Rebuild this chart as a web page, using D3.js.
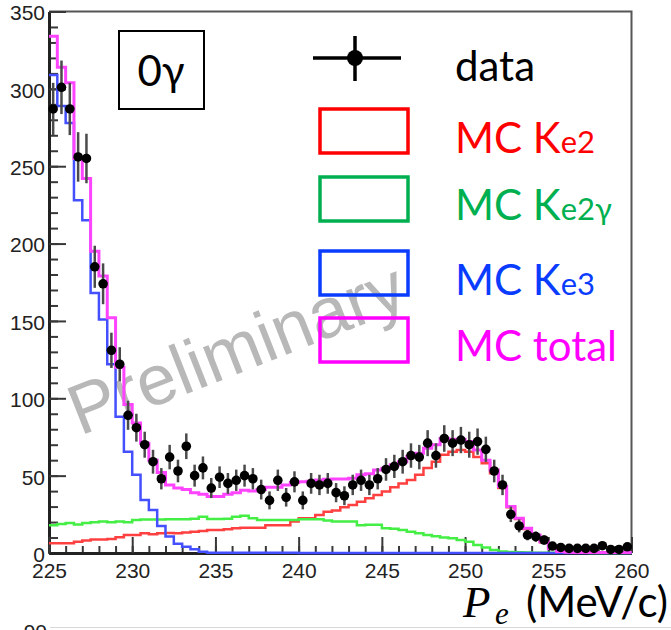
<!DOCTYPE html>
<html><head><meta charset="utf-8">
<script src="https://cdn.jsdelivr.net/npm/d3@7"></script>
<style>body{margin:0;background:#fff} svg{display:block}</style>
</head><body><svg id="c" width="671" height="630"></svg>
<script>
// ---- data ----
const binStart = 225, binWidth = 0.5;
const xTicks = [225, 230, 235, 240, 245, 250, 255, 260];
const yTicks = [0, 50, 100, 150, 200, 250, 300, 350];

const dataVals = [287,301,287,256,255,185,174,131,122,89,
  81,70,59,48,62,53,69,50,55,42,
  49,45,47,50,48,41,34,47,36,46,
  34,45,44,45,39,37,44,47,44,48,
  54,56,59,63,62,71,63,74,71,73,
  70,72,67,53,44,25,17.5,11.6,10.6,8.4,
  4.5,3.6,3,3,3,3,4.7,2.3,2.3,4];
const dataErr = [16.9,17.3,16.9,16,16,13.6,13.2,11.4,11,9.4,
  9,8.4,7.7,6.9,7.9,7.3,8.3,7.1,7.4,6.5,
  7,6.7,6.9,7.1,6.9,6.4,5.8,6.9,6,6.8,
  5.8,6.7,6.6,6.7,6.2,6.1,6.6,6.9,6.6,6.9,
  7.3,7.5,7.7,7.9,7.9,8.4,7.9,8.6,8.4,8.5,
  8.4,8.5,8.2,7.3,6.6,5,4.2,3.4,3.3,2.9,
  2.1,1.9,1.7,1.7,1.7,1.7,2.2,1.5,1.5,2];
const mcKe2 = [6.3,6.3,6.3,7.3,8,8.8,8.8,9,10.1,11.6,
  11.6,12.7,12.2,12.7,13,12.7,13.2,13.8,14.2,14.9,
  14.9,15.4,16,16.4,16.4,16.4,18,18,18,20.3,
  22.4,22.4,24.6,26.7,27.5,29.5,31,33.2,35.4,37.5,
  39.7,42.5,45,47.2,50.5,55,59,63.5,65.5,66.6,
  65.5,62,58,51.5,42,29.5,22,15.5,11.3,7,
  3,1,0.3,0.3,0.3,0.3,0.3,0.3,0.3,0.3];
const mcKe2g = [18,18.7,19.4,18.5,19.4,19.8,20.3,19.8,20.3,19.8,
  21.3,21.6,21.6,21.6,21.8,21.8,21.8,22.2,23.5,22,
  22,22.2,23.5,24,22.4,21.3,21.3,21.3,21.3,21.3,
  21.8,21.8,21.8,21,20.3,20.3,20.3,18,18.3,18.3,
  16,15.6,14.9,13.8,12.7,11.6,10.8,10,9.5,8.4,
  7.3,5.2,3.5,1.9,0.9,0.6,0.5,0.3,0.2,0.2,
  0.2,0.1,0.1,0.1,0.1,0,0,0,0,0];
const mcKe3 = [309,289,278,228,215,168,151,122,88,65.5,
  50.5,34.3,27.8,17.5,10.6,6,4,2.5,0.8,0.2,
  0.2,0.2,0.2,0.2,0.2,0.2,0.2,0.2,0.2,0.2,
  0,0,0,0,0,0,0,0,0,0,
  0,0,0,0,0,0,0,0,0,0,
  0,0,0,0,0,0,0,0,0,0,
  0,0,0,0,0,0,0,0,0,0];
const mcTotal = [334,314,304,255,242,195,179,152,120,96,
  84,71,60,52,44,42,41,39,38,36.5,
  36.5,38,39,40.5,40,41,42.5,42.5,44,45.5,
  46,46.3,47.2,47.6,47.9,47.9,48.3,50.5,51.2,53.7,
  54.8,57,59,62.3,64.5,67.7,70,74,73.5,73.5,
  72,66.6,60,53.7,43,30,22.4,16,11.6,7.3,
  3,1,0.5,0.4,0.4,0.4,0.4,0.4,0.4,0.4];

const legendMain = ["MC K", "MC K", "MC K", "MC total"];
const legendSub = ["e2", "e2\u03b3", "e3", ""];
const legendColors = ["#ff0000", "#00b050", "#0a3cff", "#ff00ff"];
const histColors = ["#ff4040", "#44ee44", "#4450ff", "#ff44ff"];

// ---- chart ----
const svg = d3.select('#c');
const x = d3.scaleLinear().domain([225, 260]).range([49, 631.5]);
const y = d3.scaleLinear().domain([0, 350]).range([553, 11.5]);
const edges = d3.range(dataVals.length + 1).map(i => binStart + i * binWidth);

// watermark
svg.append('text')
  .attr('transform', 'translate(80,436) rotate(-21.5)')
  .attr('font-family', '"Liberation Sans", Arial, sans-serif')
  .attr('font-size', 71)
  .attr('fill', '#b8b8b8')
  .text('Preliminary');

// frame (top, right)
svg.append('path')
  .attr('d', `M${x(225)},${y(350)}H${x(260)}V${y(0)}`)
  .attr('fill', 'none').attr('stroke', '#555').attr('stroke-width', 2);

// y axis
const yMinor = d3.axisLeft(y).tickValues(d3.range(0, 351, 10)).tickSize(-9).tickSizeOuter(0).tickFormat('');
const yMajor = d3.axisLeft(y).tickValues(yTicks).tickSize(-17).tickSizeOuter(0).tickPadding(4);
const gy1 = svg.append('g').attr('transform', `translate(${x(225)},0)`).call(yMinor);
const gy2 = svg.append('g').attr('transform', `translate(${x(225)},0)`).call(yMajor);
// x axis
const xMinor = d3.axisBottom(x).tickValues(d3.range(225, 260.1, 1)).tickSize(-7).tickSizeOuter(0).tickFormat('');
const xMajor = d3.axisBottom(x).tickValues(xTicks).tickSize(-16).tickSizeOuter(0).tickPadding(10);
const gx1 = svg.append('g').attr('transform', `translate(0,${y(0)})`).call(xMinor);
const gx2 = svg.append('g').attr('transform', `translate(0,${y(0)})`).call(xMajor);

[gy1, gy2, gx1, gx2].forEach(g => {
  g.selectAll('.tick line').attr('stroke', '#383838').attr('stroke-width', 2);
  g.select('.domain').attr('stroke', '#222').attr('stroke-width', 3);
  g.selectAll('text').attr('font-family', '"Liberation Sans", Arial, sans-serif')
    .attr('font-size', 21).attr('fill', '#222');
});
gy2.selectAll('text').attr('dy', '0.4em');

// histograms
const series = [mcKe2, mcKe2g, mcKe3, mcTotal];
const line = d3.line().x(d => x(d[0])).y(d => y(d[1])).curve(d3.curveStepAfter);
series.forEach((vals, si) => {
  const pts = vals.map((v, i) => [edges[i], v]);
  pts.push([edges[vals.length], vals[vals.length - 1]]);
  svg.append('path').attr('d', line(pts))
    .attr('fill', 'none').attr('stroke', histColors[si])
    .attr('stroke-width', si === 3 ? 3 : 2.5);
});

// data points
const centers = dataVals.map((v, i) => binStart + (i + 0.5) * binWidth);
const gd = svg.append('g');
gd.selectAll('line.err').data(dataVals).join('line')
  .attr('x1', (d, i) => x(centers[i])).attr('x2', (d, i) => x(centers[i]))
  .attr('y1', (d, i) => y(d - dataErr[i])).attr('y2', (d, i) => y(d + dataErr[i]))
  .attr('stroke', '#4a4a4a').attr('stroke-width', 2.5);
gd.selectAll('circle').data(dataVals).join('circle')
  .attr('cx', (d, i) => x(centers[i])).attr('cy', d => y(d)).attr('r', 4.8)
  .attr('fill', '#000');

// 0γ box
svg.append('rect').attr('x', 119).attr('y', 31).attr('width', 85).attr('height', 78)
  .attr('fill', '#fff').attr('stroke', '#000').attr('stroke-width', 2);
svg.append('text').attr('x', 161).attr('y', 86).attr('text-anchor', 'middle')
  .attr('font-family', 'Lato, "Noto Sans", sans-serif').attr('font-size', 42)
  .attr('fill', '#000').text('0\u03b3');

// legend
const lf = 'Lato, "Noto Sans", sans-serif';
svg.append('line').attr('x1', 313).attr('x2', 401).attr('y1', 58).attr('y2', 58)
  .attr('stroke', '#000').attr('stroke-width', 3.5);
svg.append('line').attr('x1', 355).attr('x2', 355).attr('y1', 36).attr('y2', 81)
  .attr('stroke', '#000').attr('stroke-width', 3.5);
svg.append('circle').attr('cx', 355).attr('cy', 58).attr('r', 8).attr('fill', '#000');
svg.append('text').attr('x', 455).attr('y', 81).attr('font-family', lf).attr('font-size', 42)
  .attr('fill', '#000').text('data');

const boxTops = [109, 177, 251, 318];
const baselines = [153, 220, 295, 361];
legendMain.forEach((m, i) => {
  svg.append('rect').attr('x', 320).attr('y', boxTops[i]).attr('width', 88).attr('height', 44)
    .attr('fill', 'none').attr('stroke', legendColors[i]).attr('stroke-width', 3.5);
  const t = svg.append('text').attr('x', 455).attr('y', baselines[i])
    .attr('font-family', lf).attr('font-size', 42).attr('fill', legendColors[i]);
  t.append('tspan').text(m);
  if (legendSub[i]) t.append('tspan').attr('font-size', 31).text(legendSub[i]);
});

// x axis title
svg.append('text').attr('x', 463).attr('y', 617)
  .attr('font-family', '"Liberation Serif", "DejaVu Serif", serif').attr('font-style', 'italic')
  .attr('font-size', 45).attr('fill', '#000').text('P');
svg.append('text').attr('x', 495).attr('y', 624)
  .attr('font-family', '"Liberation Serif", "DejaVu Serif", serif').attr('font-style', 'italic')
  .attr('font-size', 31).attr('fill', '#000').text('e');
svg.append('text').attr('x', 526).attr('y', 617)
  .attr('font-family', lf).attr('font-size', 42).attr('fill', '#000').text('(MeV/c)');

// cut-off remains of a chart below
svg.append('line').attr('x1', 50).attr('x2', 671).attr('y1', 627.5).attr('y2', 627.5)
  .attr('stroke', '#d8d8d8').attr('stroke-width', 1);
svg.append('text').attr('x', 47).attr('y', 639).attr('text-anchor', 'end')
  .attr('font-family', '"Liberation Sans", Arial, sans-serif').attr('font-size', 21)
  .attr('fill', '#222').text('90');
</script></body></html>
